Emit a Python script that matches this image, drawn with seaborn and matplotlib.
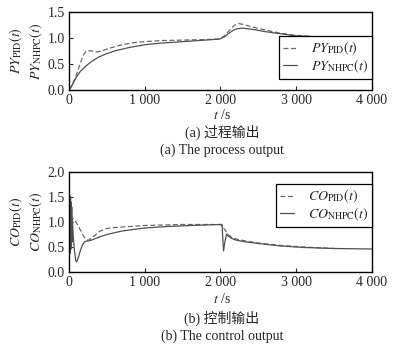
import numpy as np
import pandas as pd
import matplotlib
matplotlib.use("Agg")
import matplotlib.pyplot as plt
import seaborn as sns

# ---- data ----
t_py_pid = [0, 50, 100, 150, 200, 240, 300, 370, 450, 550, 700, 850, 1000, 1200, 1500, 1800, 1990,
            2050, 2100, 2150, 2200, 2240, 2300, 2400, 2600, 2800, 3000, 3300, 3600, 4000]
py_pid = [0.0, 0.12, 0.30, 0.52, 0.70, 0.76, 0.75, 0.73, 0.76, 0.81, 0.87, 0.91, 0.93, 0.95, 0.96, 0.97, 0.98,
          1.04, 1.12, 1.20, 1.26, 1.28, 1.26, 1.22, 1.15, 1.09, 1.05, 1.02, 1.00, 1.00]

t_py_nhpc = [0, 30, 60, 100, 150, 230, 300, 400, 500, 600, 800, 1000, 1200, 1500, 1800, 1990,
             2050, 2100, 2150, 2200, 2280, 2350, 2450, 2600, 2800, 3000, 3300, 3600, 4000]
py_nhpc = [0.0, 0.06, 0.15, 0.25, 0.36, 0.47, 0.55, 0.64, 0.70, 0.75, 0.82, 0.87, 0.90, 0.93, 0.96, 0.98,
           1.02, 1.08, 1.13, 1.17, 1.19, 1.18, 1.16, 1.12, 1.08, 1.04, 1.02, 1.00, 1.00]

t_co_pid = [0, 50, 100, 150, 200, 250, 300, 400, 500, 600, 800, 1000, 1500, 2000,
            2020, 2060, 2100, 2150, 2200, 2300, 2500, 2800, 3100, 3500]
co_pid = [1.10, 1.08, 0.98, 0.84, 0.70, 0.63, 0.68, 0.81, 0.87, 0.89, 0.91, 0.93, 0.95, 0.95,
          0.92, 0.84, 0.75, 0.69, 0.66, 0.63, 0.58, 0.53, 0.50, 0.47]

t_co_nhpc = [0, 4, 8, 12, 16, 20, 24, 28, 32, 36, 40, 45, 55, 70, 90, 100, 120, 150, 180, 210, 250,
             300, 400, 500, 700, 1000, 1300, 1600, 2000, 2020, 2040, 2060, 2080, 2100, 2150, 2200,
             2300, 2500, 2800, 3100, 3500, 4000]
co_nhpc = [0.95, 1.55, 0.35, 1.52, 0.40, 1.48, 0.45, 1.40, 0.52, 1.30, 0.60, 1.05, 0.75, 0.45, 0.23, 0.20,
           0.27, 0.43, 0.55, 0.61, 0.62, 0.64, 0.70, 0.75, 0.82, 0.88, 0.91, 0.93, 0.95, 0.95,
           0.42, 0.62, 0.76, 0.72, 0.67, 0.64, 0.61, 0.57, 0.52, 0.49, 0.47, 0.46]

x_ticks = [0, 1000, 2000, 3000, 4000]
x_ticklabels = ["0", "1 000", "2 000", "3 000", "4 000"]
y_ticks_a = [0.0, 0.5, 1.0, 1.5]
y_ticks_b = [0.0, 0.5, 1.0, 1.5, 2.0]

sns.set_style("ticks")
plt.rcParams["font.family"] = ["Liberation Serif", "Noto Sans CJK SC"]
plt.rcParams["mathtext.fontset"] = "stix"
plt.rcParams["xtick.direction"] = "in"
plt.rcParams["ytick.direction"] = "in"

W, H = 393, 348
fig = plt.figure(figsize=(W / 100, H / 100), dpi=100)
fs = 10

def ax_rect(x0, y0, x1, y1):
    return [x0 / W, 1 - y1 / H, (x1 - x0) / W, (y1 - y0) / H]

ax1 = fig.add_axes(ax_rect(69, 12, 372, 90))
ax2 = fig.add_axes(ax_rect(69, 172, 372, 272))

sns.lineplot(x=t_py_pid, y=py_pid, ax=ax1, color="#6a6a6a", lw=0.9,
             label=r"$PY_{\mathrm{PID}}(t)$", sort=False)
ax1.lines[-1].set_dashes((4, 2))
sns.lineplot(x=t_py_nhpc, y=py_nhpc, ax=ax1, color="#505050", lw=0.9,
             label=r"$PY_{\mathrm{NHPC}}(t)$", sort=False)

sns.lineplot(x=t_co_pid, y=co_pid, ax=ax2, color="#6a6a6a", lw=0.9,
             label=r"$CO_{\mathrm{PID}}(t)$", sort=False)
ax2.lines[-1].set_dashes((4, 2))
sns.lineplot(x=t_co_nhpc, y=co_nhpc, ax=ax2, color="#505050", lw=0.9,
             label=r"$CO_{\mathrm{NHPC}}(t)$", sort=False)

for ax, yt, ylab in [(ax1, y_ticks_a, "$PY_{\\mathrm{PID}}(t)$\n$PY_{\\mathrm{NHPC}}(t)$"),
                     (ax2, y_ticks_b, "$CO_{\\mathrm{PID}}(t)$\n$CO_{\\mathrm{NHPC}}(t)$")]:
    ax.set_xlim(0, 4000)
    ax.set_ylim(yt[0], yt[-1])
    ax.set_xticks(x_ticks)
    ax.set_xticklabels(x_ticklabels)
    ax.set_yticks(yt)
    ax.set_yticklabels([f"{v:.1f}" for v in yt])
    ax.tick_params(labelsize=fs, length=3, width=0.8, pad=3)
    for s in ax.spines.values():
        s.set_linewidth(1.0)
        s.set_color("black")
    ax.set_xlabel("")
    ax.set_ylabel(ylab, fontsize=fs, linespacing=1.2, va="center", ha="center")
    ax.yaxis.set_label_coords((26 - 69) / 303, 0.5)
    leg = ax.legend(loc="lower right", fontsize=fs, frameon=True, fancybox=False,
                    edgecolor="black", handlelength=1.0, handletextpad=1.0,
                    borderpad=0.3, labelspacing=0.02, borderaxespad=0)
    leg.get_frame().set_linewidth(0.9)
    leg.get_frame().set_alpha(1)

ax1.legend_.set_bbox_to_anchor((1.0, (90 - 79) / 78), transform=ax1.transAxes)
ax2.legend_.set_bbox_to_anchor((1.0, (272 - 227) / 100), transform=ax2.transAxes)

cx = 222 / W
for y, s in [(115, "$t$ /s"), (132, "(a) 过程输出"), (150, "(a) The process output"),
             (299, "$t$ /s"), (318, "(b) 控制输出"), (336, "(b) The control output")]:
    fig.text(cx, 1 - y / H, s, ha="center", va="center", fontsize=fs)

fig.savefig("out.png", dpi=100)
